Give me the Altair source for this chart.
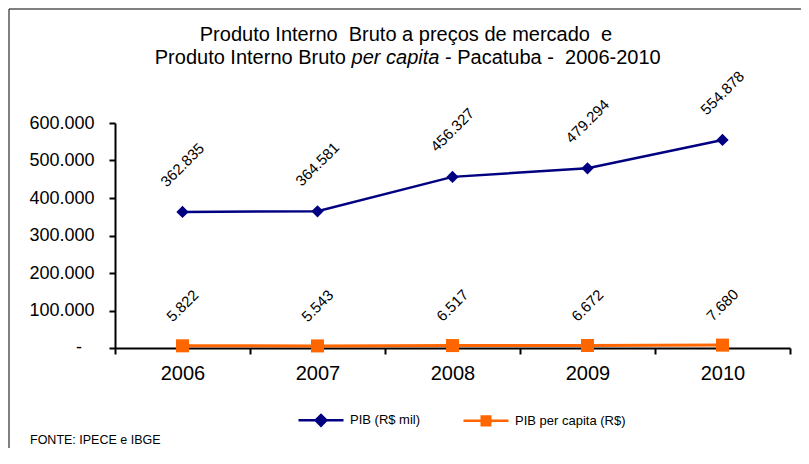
import altair as alt
import pandas as pd

years = ["2006", "2007", "2008", "2009", "2010"]
pib = [362835, 364581, 456327, 479294, 554878]
pib_per_capita = [5822, 5543, 6517, 6672, 7680]
series = ["PIB (R$ mil)", "PIB per capita (R$)"]
colors = ["#000080", "#FF6600"]
y_ticks = [0, 100000, 200000, 300000, 400000, 500000, 600000]
zero_label = [{"value": 0, "label": "-"}]

title_line1 = "Produto Interno\u00a0 Bruto a preços de mercado\u00a0 e"
title_line2a = "Produto Interno Bruto"
title_line2b = "per capita"
title_line2c = "- Pacatuba -\u00a0 2006-2010"
source_text = "FONTE: IPECE e IBGE"

F = "Liberation Sans, Arial, sans-serif"

rows = []
for s, vals in zip(series, [pib, pib_per_capita]):
    for yr, v in zip(years, vals):
        rows.append({"year": yr, "series": s, "value": v,
                     "label": f"{v:,}".replace(",", ".")})
df = pd.DataFrame(rows)
base = alt.Chart(df)

x = alt.X("year:N", sort=years,
          scale=alt.Scale(type="band", paddingInner=0, paddingOuter=0),
          axis=alt.Axis(title=None, labelAngle=0, tickBand="extent",
                        labelFontSize=20, labelFont=F, labelColor="black",
                        tickSize=6, tickWidth=2, tickColor="black",
                        domainColor="black", domainWidth=2, labelPadding=9))
y = alt.Y("value:Q", scale=alt.Scale(domain=[0, 600000], nice=False, zero=True),
          axis=alt.Axis(title=None, values=y_ticks, grid=False,
                        labelExpr="datum.value == 0 ? '' : replace(format(datum.value, ','), ',', '.')",
                        labelFontSize=18, labelFont=F, labelColor="black",
                        tickSize=6, tickWidth=2, tickColor="black",
                        domainColor="black", domainWidth=2, labelPadding=15))

def sel(i):
    return base.transform_filter(alt.datum.series == series[i])

line_blue = sel(0).mark_line(strokeWidth=2.5, color=colors[0]).encode(x=x, y=y)
line_orange = sel(1).mark_line(strokeWidth=3, color=colors[1]).encode(x=x, y=y)

pts_blue = sel(0).mark_point(
    shape="diamond", filled=True, size=150, color=colors[0], opacity=1).encode(x=x, y=y)
pts_orange = sel(1).mark_point(
    shape="square", filled=True, size=170, color=colors[1], opacity=1).encode(x=x, y=y)

lab_blue = sel(0).mark_text(
    angle=315, align="center", baseline="middle", fontSize=15, font=F,
    color="black", yOffset=-47).encode(x=x, y=y, text="label:N")
lab_orange = sel(1).mark_text(
    angle=315, align="center", baseline="middle", fontSize=15, font=F,
    color="black", yOffset=-40).encode(x=x, y=y, text="label:N")

# "-" tick label for zero, placed through the y scale
zero_lab = alt.Chart(alt.Data(values=zero_label)).mark_text(
    font=F, fontSize=18, align="right", baseline="middle", color="black").encode(
    x=alt.value(-33), y=y, text="label:N")

# legend symbols: a line with a (stroke-filled) marker in the middle
path_diamond = ("M-1,0L1,0M-0.24,0L0,-0.24L0.24,0L0,0.24Z"
                "M-0.12,0L0,-0.12L0.12,0L0,0.12Z M0,-0.2L0,0.2")
path_square = ("M-1,0L1,0M-0.19,-0.19L0.19,-0.19L0.19,0.19L-0.19,0.19Z"
               "M-0.08,-0.08L0.08,-0.08L0.08,0.08L-0.08,0.08Z")
legend_obj = alt.Legend(title=None, orient="none", legendX=182, legendY=273,
                        direction="horizontal", columns=2, columnPadding=37,
                        symbolSize=2025, symbolStrokeWidth=2.5,
                        labelFontSize=13, labelFont=F, labelColor="black",
                        labelOffset=5, padding=0)
leg = base.mark_point(filled=False, size=0, opacity=1, strokeWidth=0).encode(
    x=x, y=y,
    color=alt.Color("series:N", scale=alt.Scale(domain=series, range=colors), legend=legend_obj),
    shape=alt.Shape("series:N", scale=alt.Scale(domain=series, range=[path_diamond, path_square]),
                    legend=legend_obj))

one = alt.Chart(alt.Data(values=[{"k": 1}]))
frame_left = one.mark_rule(color="black", strokeWidth=1).encode(
    x=alt.value(-106), y=alt.value(-114), y2=alt.value(325))
frame_top = one.mark_rule(color="black", strokeWidth=1).encode(
    x=alt.value(-106), x2=alt.value(686), y=alt.value(-114))

t1 = one.mark_text(font=F, fontSize=20, align="center", baseline="middle", color="black").encode(
    x=alt.value(291), y=alt.value(-88), text=alt.value(title_line1))
t2a = one.mark_text(font=F, fontSize=20, align="right", baseline="middle", color="black").encode(
    x=alt.value(231), y=alt.value(-65), text=alt.value(title_line2a))
t2b = one.mark_text(font=F, fontSize=20, fontStyle="italic", align="left", baseline="middle", color="black").encode(
    x=alt.value(236.6), y=alt.value(-65), text=alt.value(title_line2b))
t2c = one.mark_text(font=F, fontSize=20, align="left", baseline="middle", color="black").encode(
    x=alt.value(330), y=alt.value(-65), text=alt.value(title_line2c))
src = one.mark_text(font=F, fontSize=12.5, align="left", baseline="middle", color="black").encode(
    x=alt.value(-85), y=alt.value(317), text=alt.value(source_text))

chart = alt.layer(
    frame_left, frame_top, t1, t2a, t2b, t2c, src,
    line_blue, line_orange, pts_blue, pts_orange, lab_blue, lab_orange, zero_lab, leg
).properties(
    width=675, height=225,
    autosize=alt.AutoSizeParams(type="none"),
    padding={"left": 107, "top": 115, "right": 11, "bottom": 100},
    background="white",
).configure_view(stroke=None)

chart.save("out.html", embed_options={"renderer": "svg", "actions": False})
